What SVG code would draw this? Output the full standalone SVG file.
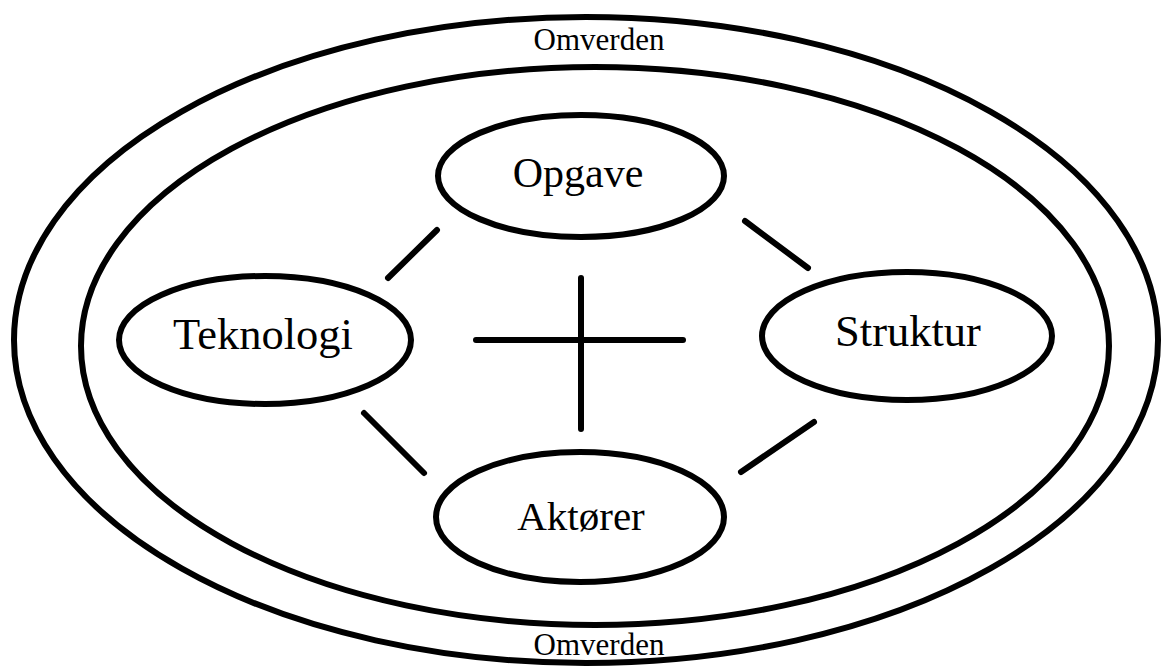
<svg xmlns="http://www.w3.org/2000/svg" width="1162" height="670" viewBox="0 0 1162 670">
<style>
.ring{fill:none;stroke:#000;stroke-width:6}
.node{fill:#fff;stroke:#000;stroke-width:6}
.lbl{font-family:"Liberation Serif","Times New Roman",serif;font-size:42px;fill:#000;text-anchor:middle}
.big{font-size:44.5px}
.env{font-family:"Liberation Serif","Times New Roman",serif;font-size:31px;fill:#000;text-anchor:middle}
.conn line{stroke:#000;stroke-width:6;stroke-linecap:round}
</style>
<rect width="1162" height="670" fill="#fff"/>
<g id="omverden-outer">
<ellipse class="ring" cx="586" cy="340" rx="572" ry="323"/>
</g>
<g id="omverden-inner">
<ellipse class="ring" cx="595" cy="346" rx="514" ry="279"/>
</g>
<g id="omverden-labels">
<text class="env" x="599" y="50">Omverden</text>
<text class="env" x="599" y="655">Omverden</text>
</g>
<g class="conn" id="connectors">
<line x1="437" y1="230" x2="388" y2="278"/>
<line x1="745" y1="221" x2="808" y2="268"/>
<line x1="364" y1="413" x2="424" y2="473"/>
<line x1="814" y1="422" x2="741" y2="472"/>
<line x1="476" y1="340" x2="683" y2="340"/>
<line x1="581" y1="278" x2="581" y2="429"/>
</g>
<g id="opgave">
<ellipse class="node" cx="581" cy="176" rx="143" ry="61"/>
<text class="lbl" x="578" y="187">Opgave</text>
</g>
<g id="teknologi">
<ellipse class="node" cx="265" cy="340" rx="146" ry="64"/>
<text class="lbl big" x="263" y="349">Teknologi</text>
</g>
<g id="struktur">
<ellipse class="node" cx="907" cy="336" rx="145" ry="64"/>
<text class="lbl big" x="908" y="346">Struktur</text>
</g>
<g id="aktorer">
<ellipse class="node" cx="580" cy="517" rx="144" ry="65"/>
<text class="lbl" x="581" y="530" style="font-size:41px">Aktører</text>
</g>
</svg>
